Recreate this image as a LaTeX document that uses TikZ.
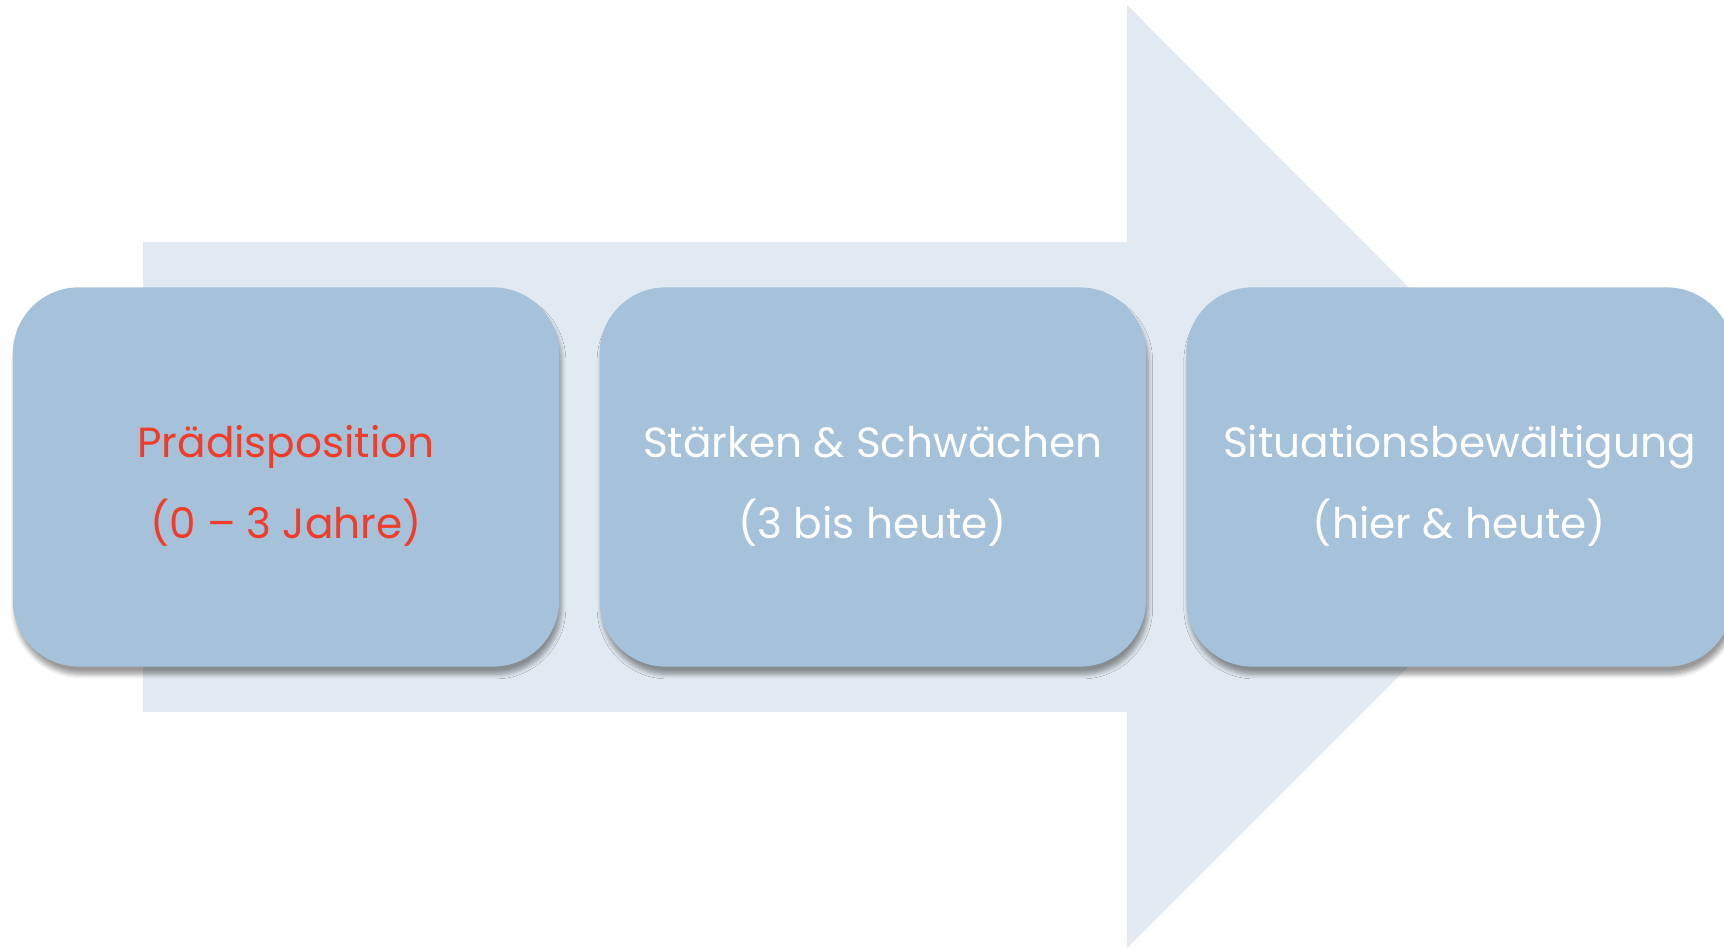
\documentclass[tikz,border=0pt]{standalone}
\usepackage{fontspec}
\setmainfont{Poppins}
\usepackage{tikz}
\usetikzlibrary{positioning, shadows.blur}

\definecolor{arrowfill}{HTML}{E1EAF2}
\definecolor{boxfill}{HTML}{A5C2DA}
\definecolor{phasered}{HTML}{F03C28}

\begin{document}
\begin{tikzpicture}[x=0.01cm, y=0.01cm,
  phase/.style={rounded corners=0.66cm, fill=boxfill, minimum width=5.46cm, minimum height=3.79cm,
    blur shadow={shadow xshift=0.6pt, shadow yshift=-2.2pt, shadow blur radius=1.3pt,
      shadow blur steps=6, shadow opacity=40}},
  phasetext/.style={align=center, text=white, font=\fontsize{12}{23}\selectfont},
  bigarrow/.style={fill=arrowfill}
]
\useasboundingbox (0,0) rectangle (1724,949);

% Background arrow
\fill[bigarrow] (143,237) -- (143,707) -- (1127,707) -- (1127,944)
  -- (1598,472) -- (1127,1) -- (1127,237) -- cycle;

% Phases
\node[phase] (praedisp) at (286,472) {};
\node[phase, right=0.39cm of praedisp] (staerken) {};
\node[phase, right=0.39cm of staerken] (situation) {};

% Phase labels
\node[phasetext, text=phasered] (praedisptext) at ([yshift=-0.09cm]praedisp.center) {Prädisposition\\(0 -- 3 Jahre)};
\node[phasetext] (staerkentext) at ([yshift=-0.09cm]staerken.center) {Stärken \& Schwächen\\(3 bis heute)};
\node[phasetext] (situationtext) at ([yshift=-0.09cm]situation.center) {Situationsbewältigung\\(hier \& heute)};

\end{tikzpicture}
\end{document}
